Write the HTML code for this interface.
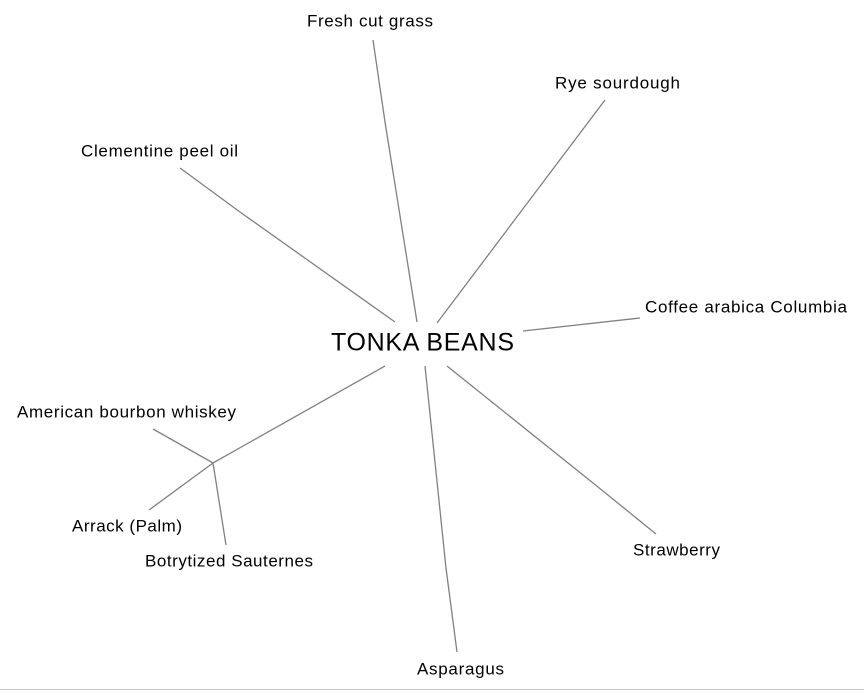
<!DOCTYPE html>
<html><head><style>
html,body{margin:0;padding:0;background:#fff;}
svg{display:block}
text{font-family:"Liberation Sans",Arial,sans-serif;fill:#000;dominant-baseline:middle;text-anchor:middle}
</style></head><body>
<svg width="864" height="692" viewBox="0 0 864 692">
<g stroke="#808080" stroke-width="1.3" fill="none">
<polyline points="373,40 385,122 417,322"/>
<polyline points="605,100 556,165 437,323"/>
<polyline points="180,168 240,212 395,322"/>
<polyline points="640,318 523,331"/>
<polyline points="153,429 213,463 385,366"/>
<polyline points="149,510 213,463 226,545"/>
<polyline points="447,366 598,487 656,534"/>
<polyline points="425,366 446,568 457,652"/>
</g>
<line x1="0" y1="689.5" x2="864" y2="689.5" stroke="#c8c8c8" stroke-width="1"/>
<g font-size="17" lengthAdjust="spacing">
<text x="370" y="22" textLength="126">Fresh cut grass</text>
<text x="617.5" y="84" textLength="125">Rye sourdough</text>
<text x="159.5" y="152" textLength="157">Clementine peel oil</text>
<text x="746" y="308" textLength="202">Coffee arabica Columbia</text>
<text x="126.5" y="413" textLength="219">American bourbon whiskey</text>
<text x="127" y="527" textLength="110">Arrack (Palm)</text>
<text x="229" y="562" textLength="168">Botrytized Sauternes</text>
<text x="676.5" y="551" textLength="87">Strawberry</text>
<text x="460.5" y="670" textLength="87">Asparagus</text>
</g>
<text x="422.5" y="344" font-size="25" textLength="183" lengthAdjust="spacing">TONKA BEANS</text>
</svg>
</body></html>
